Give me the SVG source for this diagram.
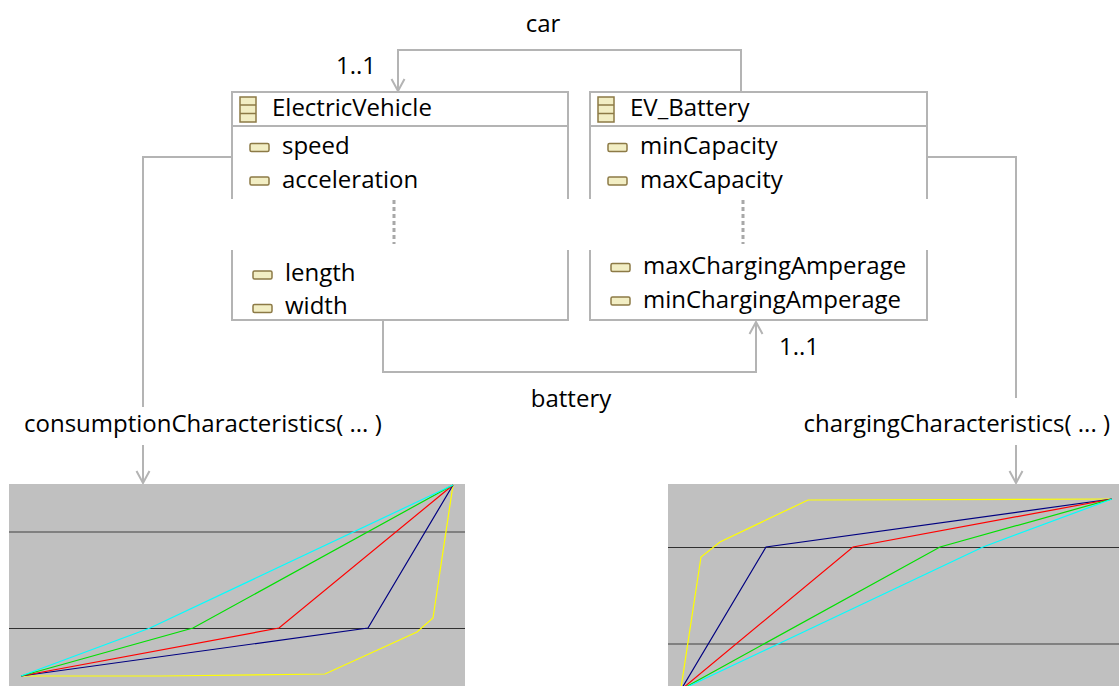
<svg xmlns="http://www.w3.org/2000/svg" width="1119" height="686" viewBox="0 0 1119 686">
<style>
text{font-family:"Open Sans","Noto Sans","DejaVu Sans",sans-serif;font-size:24px;fill:#000}
.box{fill:#fff;stroke:#b4b4b4;stroke-width:2}
.side{stroke:#b4b4b4;stroke-width:2;fill:none}
.conn{stroke:#b4b4b4;stroke-width:2;fill:none}
.dots{stroke:#a8a8a8;stroke-width:3;stroke-dasharray:4 3;fill:none}
.attr{fill:#f2eec4;stroke:#8c7a46;stroke-width:1.5}
.cls{fill:#f2eec4;stroke:#8c7a46;stroke-width:1.5}
.chart{fill:#c0c0c0}
.p{fill:none;stroke-width:1.2}
</style>
<defs>
<marker id="arr" markerUnits="userSpaceOnUse" markerWidth="16" markerHeight="16" viewBox="0 0 16 16" refX="14" refY="8" orient="auto">
<path d="M2,1.5 L14,8 L2,14.5" fill="none" stroke="#b4b4b4" stroke-width="2"/>
</marker>
<symbol id="clsIcon" viewBox="0 0 18 27">
<rect x="1" y="1" width="16" height="25" class="cls"/>
<line x1="1" y1="9" x2="17" y2="9" stroke="#8c7a46" stroke-width="1.5"/>
<line x1="1" y1="17.5" x2="17" y2="17.5" stroke="#8c7a46" stroke-width="1.5"/>
</symbol>
</defs>

<g id="connectors">
<polyline class="conn" points="741,92 741,50 398,50 398,91" marker-end="url(#arr)"/>
<text x="543" y="32" text-anchor="middle">car</text>
<text x="336" y="74">1..1</text>
<polyline class="conn" points="383,321 383,372 756,372 756,322" marker-end="url(#arr)"/>
<text x="571" y="407" text-anchor="middle">battery</text>
<text x="779" y="355">1..1</text>
<polyline class="conn" points="231,157 143,157 143,407"/>
<line class="conn" x1="143" y1="445" x2="143" y2="483" marker-end="url(#arr)"/>
<text x="24" y="432">consumptionCharacteristics( ... )</text>
<polyline class="conn" points="927,157 1016,157 1016,398"/>
<line class="conn" x1="1016" y1="445" x2="1016" y2="483" marker-end="url(#arr)"/>
<text x="1110" y="432" text-anchor="end">chargingCharacteristics( ... )</text>
</g>

<g id="ElectricVehicle">
<rect x="232" y="92" width="336" height="228" fill="#fff"/>
<line class="side" x1="231" y1="92" x2="569" y2="92"/>
<line class="side" x1="232" y1="126" x2="568" y2="126"/>
<line class="side" x1="231" y1="320" x2="569" y2="320"/>
<polyline class="side" points="232,92 232,199"/>
<polyline class="side" points="232,250 232,320"/>
<polyline class="side" points="568,92 568,199"/>
<polyline class="side" points="568,250 568,320"/>
<rect x="225" y="200" width="350" height="50" fill="#fff"/>
<line class="dots" x1="394" y1="200" x2="394" y2="244"/>
<use href="#clsIcon" x="239" y="96" width="18" height="27"/>
<text x="272" y="116">ElectricVehicle</text>
<rect class="attr" x="250" y="143.5" width="19" height="8" rx="1.5"/>
<text x="282" y="154">speed</text>
<rect class="attr" x="250" y="177" width="19" height="8" rx="1.5"/>
<text x="282" y="188">acceleration</text>
<rect class="attr" x="253" y="271" width="19" height="8" rx="1.5"/>
<text x="285" y="281">length</text>
<rect class="attr" x="253" y="304.5" width="19" height="8" rx="1.5"/>
<text x="285" y="314">width</text>
</g>

<g id="EV_Battery">
<rect x="590" y="92" width="337" height="228" fill="#fff"/>
<line class="side" x1="589" y1="92" x2="928" y2="92"/>
<line class="side" x1="590" y1="126" x2="927" y2="126"/>
<line class="side" x1="589" y1="320" x2="928" y2="320"/>
<polyline class="side" points="590,92 590,199"/>
<polyline class="side" points="590,250 590,320"/>
<polyline class="side" points="927,92 927,199"/>
<polyline class="side" points="927,250 927,320"/>
<rect x="583" y="200" width="350" height="50" fill="#fff"/>
<line class="dots" x1="743" y1="200" x2="743" y2="244"/>
<use href="#clsIcon" x="597" y="96" width="18" height="27"/>
<text x="630" y="116">EV_Battery</text>
<rect class="attr" x="608" y="143.5" width="19" height="8" rx="1.5"/>
<text x="640" y="154">minCapacity</text>
<rect class="attr" x="608" y="177" width="19" height="8" rx="1.5"/>
<text x="640" y="188">maxCapacity</text>
<rect class="attr" x="611" y="263.5" width="19" height="8" rx="1.5"/>
<text x="643" y="274">maxChargingAmperage</text>
<rect class="attr" x="611" y="297" width="19" height="8" rx="1.5"/>
<text x="643" y="308">minChargingAmperage</text>
</g>

<g id="consumptionChart">
<rect class="chart" x="9" y="484" width="456" height="202"/>
<line x1="9" y1="532" x2="465" y2="532" stroke="#808080" stroke-width="2"/>
<line x1="9" y1="628.5" x2="465" y2="628.5" stroke="#303030" stroke-width="1"/>
<polyline class="p" stroke="#ffff00" points="21,676 161,676 325,674 417,632 433,618 453,485"/>
<polyline class="p" stroke="#000080" points="21,676 368,628 453,485"/>
<polyline class="p" stroke="#ff0000" points="21,676 279,628 453,485"/>
<polyline class="p" stroke="#00e000" points="21,676 193,628 453,485"/>
<polyline class="p" stroke="#00ffff" points="21,676 150,628 453,485"/>
</g>

<g id="chargingChart">
<rect class="chart" x="668" y="484" width="451" height="202"/>
<line x1="668" y1="547.5" x2="1119" y2="547.5" stroke="#303030" stroke-width="1"/>
<line x1="668" y1="644" x2="1119" y2="644" stroke="#808080" stroke-width="2"/>
<polyline class="p" stroke="#ffff00" points="681,688 701,557 720,542 808,500 1110,499"/>
<polyline class="p" stroke="#000080" points="682,688 766,547 1112,499"/>
<polyline class="p" stroke="#ff0000" points="683,688 853,547 1112,499"/>
<polyline class="p" stroke="#00e000" points="684,688 940,547 1112,499"/>
<polyline class="p" stroke="#00ffff" points="685,688 983,547 1112,499"/>
</g>
</svg>
